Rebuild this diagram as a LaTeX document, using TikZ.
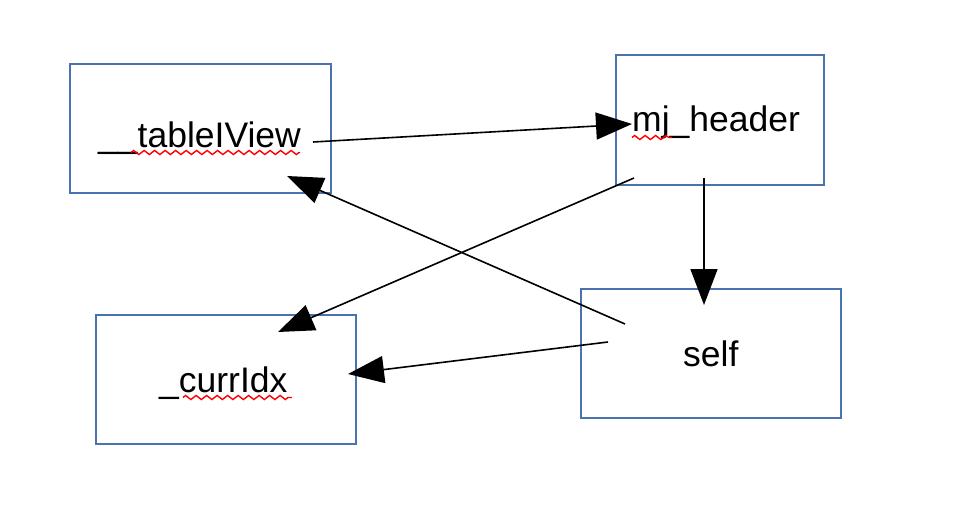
\documentclass[tikz,border=0pt]{standalone}
\usepackage{fontspec}
\setmainfont{Liberation Sans}
\usetikzlibrary{arrows.meta,decorations.pathmorphing}
\definecolor{boxblue}{HTML}{4A72B0}
\tikzset{
  x=1pt, y=-1pt,
  box/.style={draw=boxblue, line width=1.5pt, rectangle, inner sep=0pt},
  lbl/.style={anchor=base west, inner sep=0pt, font=\fontsize{35.5}{40}\selectfont},
  conn/.style={line width=1.6pt, -{Triangle[length=36pt,width=27pt]}},
  spell/.style={draw=red, line width=1.4pt, decorate, decoration={zigzag, segment length=10.5pt, amplitude=2pt}}
}
\begin{document}
\begin{tikzpicture}
\useasboundingbox (0,0) rectangle (954,532);
% boxes
\node[box, minimum width=261pt, minimum height=129pt] (tbox) at (200.5,128.5) {};
\node[box, minimum width=208pt, minimum height=130pt] (hbox) at (720,120) {};
\node[box, minimum width=260pt, minimum height=129pt] (cbox) at (226,379.5) {};
\node[box, minimum width=260pt, minimum height=129pt] (sbox) at (711,353.5) {};
% labels
\node[lbl] (tlbl) at (98,148) {\_\_tableIView};
\node[lbl] (hlbl) at (632,132) {mj\_header};
\node[lbl] (clbl) at (159,392) {\_currIdx};
\node[lbl] (slbl) at (683,366) {self};
% spell-check underlines
\coordinate (t1) at (131,152.5); \coordinate (t2) at (300,152.5);
\coordinate (h1) at (632,137.5); \coordinate (h2) at (672,137.5);
\coordinate (c1) at (183,397.5); \coordinate (c2) at (292,397.5);
\draw[spell] (t1) -- (t2);
\draw[spell] (h1) -- (h2);
\draw[spell] (c1) -- (c2);
% connector ends
\coordinate (a1s) at (313,142); \coordinate (a1e) at (632,124);
\coordinate (a2s) at (634,178); \coordinate (a2e) at (278,332);
\coordinate (a3s) at (704,178); \coordinate (a3e) at (704,305);
\coordinate (a4s) at (625,324); \coordinate (a4e) at (287,176);
\coordinate (a5s) at (608,342); \coordinate (a5e) at (348,374);
\draw[conn] (a1s) -- (a1e);
\draw[conn] (a2s) -- (a2e);
\draw[conn] (a3s) -- (a3e);
\draw[conn] (a4s) -- (a4e);
\draw[conn] (a5s) -- (a5e);
\end{tikzpicture}
\end{document}
